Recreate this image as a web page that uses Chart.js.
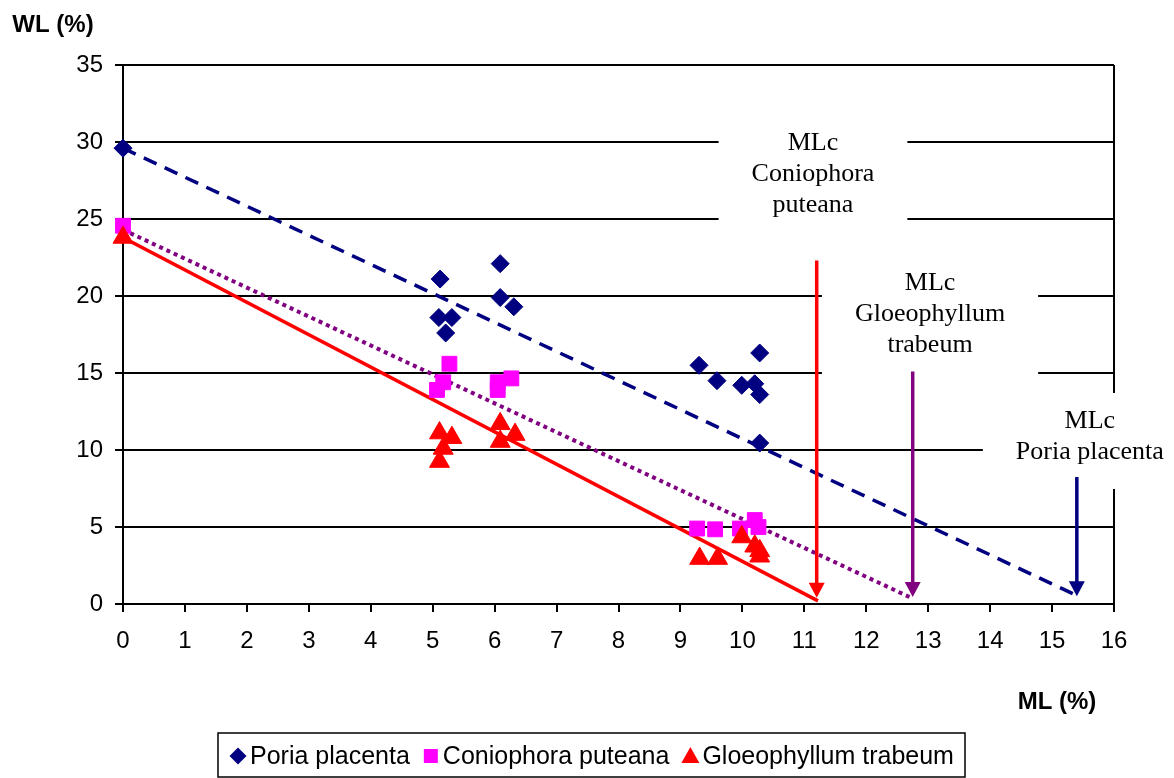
<!DOCTYPE html>
<html>
<head>
<meta charset="utf-8">
<title>WL vs ML</title>
<script src="https://cdn.jsdelivr.net/npm/chart.js@4.4.0/dist/chart.umd.min.js"></script>
<style>
  html, body { margin: 0; padding: 0; background: #fff; }
  #wrap { width: 1174px; height: 778px; }
</style>
</head>
<body>
<div id="wrap"><canvas id="wl_chart"></canvas></div>
<script>
// ML (%) / WL (%)
const poriaX = [0, 5.12, 6.09, 6.09, 6.31, 5.10, 5.31, 5.21, 9.30, 9.59, 9.99, 10.2, 10.28, 10.28, 10.28];
const poriaY = [29.6, 21.1, 22.1, 19.9, 19.3, 18.6, 18.6, 17.6, 15.5, 14.5, 14.2, 14.3, 13.6, 16.3, 10.45];

const conioX = [0, 5.27, 5.07, 5.17, 6.05, 6.05, 6.27, 9.27, 9.56, 9.96, 10.2, 10.26];
const conioY = [24.56, 15.6, 13.9, 14.4, 14.4, 13.9, 14.65, 4.9, 4.85, 4.9, 5.45, 5.0];

const gloeoX = [0, 5.11, 5.31, 5.17, 5.11, 6.09, 6.09, 6.33, 9.31, 9.6, 9.99, 10.2, 10.28, 10.28];
const gloeoY = [23.8, 11.1, 10.8, 10.1, 9.25, 11.7, 10.55, 11.0, 2.95, 2.95, 4.35, 3.75, 3.45, 3.1];

// regression lines (start / end)
const poriaTrendX = [0, 15.4];
const poriaTrendY = [29.6, 0.55];
const conioTrendX = [0, 12.7];
const conioTrendY = [24.3, 0.45];
const gloeoTrendX = [0, 11.22];
const gloeoTrendY = [23.8, 0.2];

// critical mass loss arrows (Coniophora, Gloeophyllum, Poria)
const mlcX = [11.2, 12.75, 15.4];
const mlcTop = [22.3, 15.1, 8.25];
const mlcTip = [0.4, 0.45, 0.5];
const mlcLabels = [['MLc', 'Coniophora', 'puteana'], ['MLc', 'Gloeophyllum', 'trabeum'], ['MLc', 'Poria placenta']];

const legendNames = ['Poria placenta', 'Coniophora puteana', 'Gloeophyllum trabeum'];

const NAVY = '#000080';
const PINK = '#FF00FF';
const RED = '#FF0000';
const PURPLE = '#800080';
const SANS = '"Liberation Sans", Arial, sans-serif';
const SERIF = '"Liberation Serif", "Times New Roman", serif';

function pts(xs, ys) {
  return xs.map((x, i) => ({x: x, y: ys[i]}));
}

const mlcPlugin = {
  id: 'mlc',
  beforeDatasetsDraw(chart, args, opts) {
    const {ctx, chartArea, scales} = chart;
    ctx.save();
    // right frame line
    ctx.strokeStyle = '#000';
    ctx.lineWidth = 2;
    ctx.beginPath();
    ctx.moveTo(chartArea.right, chartArea.top);
    ctx.lineTo(chartArea.right, chartArea.bottom);
    ctx.stroke();
    // white boxes under the labels
    ctx.font = '26px ' + SERIF;
    ctx.fillStyle = '#fff';
    mlcLabels.forEach((lines, i) => {
      const cx = scales.x.getPixelForValue(opts.labelPos[i].x);
      const cy = scales.y.getPixelForValue(opts.labelPos[i].y);
      const w = Math.max(...lines.map(t => ctx.measureText(t).width)) + 66;
      ctx.fillRect(cx - w / 2, cy - 27, w, (lines.length - 1) * 31 + 65);
    });
    ctx.restore();
  },
  afterDatasetsDraw(chart, args, opts) {
    const {ctx, scales} = chart;
    ctx.save();
    ctx.font = '26px ' + SERIF;
    ctx.fillStyle = '#000';
    ctx.textAlign = 'center';
    ctx.textBaseline = 'middle';
    mlcLabels.forEach((lines, i) => {
      const cx = scales.x.getPixelForValue(opts.labelPos[i].x);
      const cy = scales.y.getPixelForValue(opts.labelPos[i].y);
      lines.forEach((t, k) => ctx.fillText(t, cx, cy + 1 + k * 31));
    });
    // arrows
    mlcX.forEach((v, i) => {
      const x = scales.x.getPixelForValue(v);
      const y0 = scales.y.getPixelForValue(mlcTop[i]);
      const y1 = scales.y.getPixelForValue(mlcTip[i]);
      ctx.strokeStyle = opts.arrowColors[i];
      ctx.fillStyle = opts.arrowColors[i];
      ctx.lineWidth = 3.5;
      ctx.beginPath();
      ctx.moveTo(x, y0);
      ctx.lineTo(x, y1 - 10);
      ctx.stroke();
      ctx.beginPath();
      ctx.moveTo(x, y1);
      ctx.lineTo(x - 8, y1 - 15);
      ctx.lineTo(x + 8, y1 - 15);
      ctx.closePath();
      ctx.fill();
    });
    ctx.restore();
  },
  afterDraw(chart, args, opts) {
    const {ctx} = chart;
    ctx.save();
    // axis titles
    ctx.fillStyle = '#000';
    ctx.font = 'bold 24px ' + SANS;
    ctx.textBaseline = 'middle';
    ctx.textAlign = 'center';
    ctx.fillText('WL (%)', 53, 25);
    ctx.fillText('ML (%)', 1057, 702);
    // legend
    ctx.strokeStyle = '#000';
    ctx.lineWidth = 1.5;
    ctx.strokeRect(218, 733, 747, 44);
    ctx.font = '25px ' + SANS;
    ctx.textAlign = 'left';
    let x = 238;
    const y = 756;
    const colors = [NAVY, PINK, RED];
    legendNames.forEach((name, i) => {
      ctx.fillStyle = colors[i];
      ctx.beginPath();
      if (i === 0) {
        ctx.moveTo(x - 8.5, y); ctx.lineTo(x, y - 8.5); ctx.lineTo(x + 8.5, y); ctx.lineTo(x, y + 8.5);
      } else if (i === 1) {
        ctx.rect(x - 7, y - 7, 14, 14);
      } else {
        ctx.moveTo(x, y - 9); ctx.lineTo(x + 9, y + 7); ctx.lineTo(x - 9, y + 7);
      }
      ctx.closePath();
      ctx.fill();
      ctx.fillStyle = '#000';
      ctx.fillText(name, x + 12, y + 1);
      x += 12 + ctx.measureText(name).width + 21;
    });
    ctx.restore();
  }
};

const wl_chart = document.getElementById('wl_chart');

new Chart(wl_chart, {
  type: 'scatter',
  data: {
    datasets: [{
      label: 'Gloeophyllum trabeum',
      data: pts(gloeoX, gloeoY),
      pointStyle: 'triangle',
      pointRadius: 11.5,
      backgroundColor: RED,
      borderColor: RED,
      borderWidth: 1,
      clip: false,
      order: 1
    },
    {
      label: 'Coniophora puteana',
      data: pts(conioX, conioY),
      pointStyle: 'rect',
      pointRadius: 10.5,
      backgroundColor: PINK,
      borderColor: PINK,
      borderWidth: 1,
      clip: false,
      order: 2
    },
    {
      label: 'Poria placenta',
      data: pts(poriaX, poriaY),
      pointStyle: 'rectRot',
      pointRadius: 9,
      backgroundColor: NAVY,
      borderColor: NAVY,
      borderWidth: 1,
      clip: false,
      order: 3
    },
    {
      label: 'trend P',
      data: pts(poriaTrendX, poriaTrendY),
      showLine: true,
      pointRadius: 0,
      borderColor: NAVY,
      borderWidth: 3.5,
      borderDash: [14, 9],
      order: 4
    },
    {
      label: 'trend C',
      data: pts(conioTrendX, conioTrendY),
      showLine: true,
      pointRadius: 0,
      borderColor: PURPLE,
      borderWidth: 4,
      borderDash: [4, 4],
      order: 5
    },
    {
      label: 'trend G',
      data: pts(gloeoTrendX, gloeoTrendY),
      showLine: true,
      pointRadius: 0,
      borderColor: RED,
      borderWidth: 3.5,
      order: 6
    }]
  },
  options: {
    responsive: true,
    maintainAspectRatio: false,
    animation: false,
    layout: {
      padding: {top: 65, right: 60, left: 0, bottom: 0}
    },
    plugins: {
      legend: {display: false},
      tooltip: {enabled: false},
      mlc: {
        labelPos: [{x: 11.14, y: 30.0}, {x: 13.03, y: 20.9}, {x: 15.61, y: 11.95}],
        arrowColors: [RED, PURPLE, NAVY]
      }
    },
    scales: {
      x: {
        type: 'linear',
        min: 0,
        max: 16,
        afterFit: s => { s.height = 174; },
        ticks: {
          stepSize: 1,
          color: '#000',
          padding: 15,
          maxRotation: 0,
          font: {family: SANS, size: 24}
        },
        grid: {
          drawOnChartArea: false,
          color: '#000',
          lineWidth: 2,
          tickLength: 8
        },
        border: {color: '#000', width: 2}
      },
      y: {
        min: 0,
        max: 35,
        afterFit: s => { s.width = 123; },
        ticks: {
          stepSize: 5,
          color: '#000',
          padding: 12,
          font: {family: SANS, size: 24}
        },
        grid: {
          color: '#000',
          lineWidth: 2,
          tickLength: 8
        },
        border: {color: '#000', width: 2}
      }
    }
  },
  plugins: [mlcPlugin]
});
</script>
</body>
</html>
